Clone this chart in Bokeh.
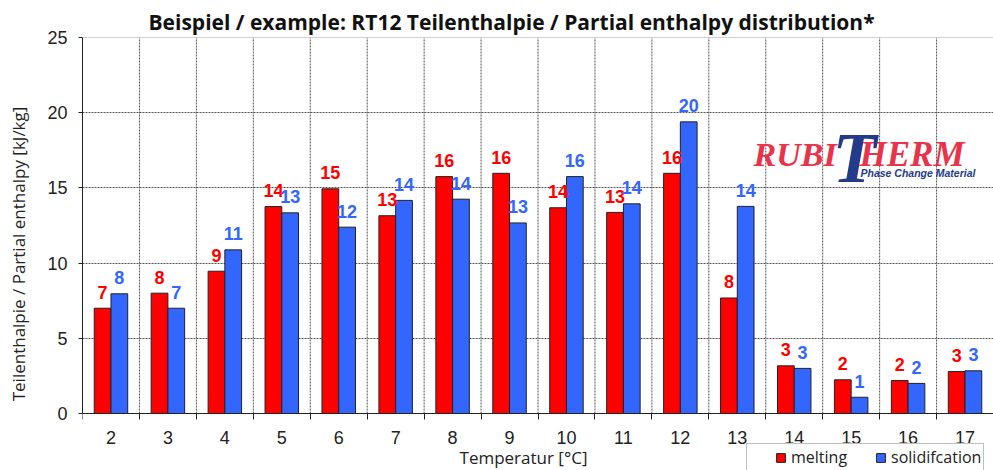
from bokeh.plotting import figure
from bokeh.models import (ColumnDataSource, FixedTicker, Range1d, Label, Legend,
                          LegendItem, Span)
from bokeh.transform import dodge
from bokeh.core.properties import value
from bokeh.embed import file_html
from bokeh.resources import INLINE

# ---------------- data ----------------
temperatures = [2, 3, 4, 5, 6, 7, 8, 9, 10, 11, 12, 13, 14, 15, 16, 17]
melting = [7.0, 8.0, 9.46, 13.76, 14.94, 13.15, 15.75, 15.97, 13.68, 13.37,
           15.97, 7.68, 3.17, 2.24, 2.19, 2.79]
solidification = [7.96, 7.0, 10.88, 13.34, 12.39, 14.17, 14.25, 12.67, 15.75,
                  13.94, 19.39, 13.77, 3.0, 1.08, 2.0, 2.84]
melting_labels = ["7", "8", "9", "14", "15", "13", "16", "16", "14", "13",
                  "16", "8", "3", "2", "2", "3"]
solidification_labels = ["8", "7", "11", "13", "12", "14", "14", "13", "16",
                         "14", "20", "14", "3", "1", "2", "3"]
y_ticks = [0, 5, 10, 15, 20, 25]

title_text = "Beispiel / example: RT12 Teilenthalpie / Partial enthalpy distribution*"
y_label = "Teilenthalpie / Partial enthalpy [kJ/kg]"
x_label = "Temperatur [°C]"
series_names = ["melting", "solidifcation"]

RED = "#ff0000"
BLUE = "#3366ff"
OFFSET = 0.147
BAR_W = 0.294

W, H = 993, 470
LEFT, TOP = 82, 37
AXIS_PX = 376            # pixel height of the 0..25 value span
BOTTOM_PX = H - TOP - AXIS_PX   # room below the x axis (tick labels, legend)
y_min = -BOTTOM_PX / AXIS_PX * (y_ticks[-1] - y_ticks[0])

boundaries = [t - 0.5 for t in temperatures] + [temperatures[-1] + 0.5]

src = ColumnDataSource(dict(t=temperatures, m=melting, s=solidification,
                            ml=melting_labels, sl=solidification_labels))

p = figure(width=W, height=H, output_backend="svg", toolbar_location=None,
           x_range=Range1d(temperatures[0] - 0.5, temperatures[-1] + 0.5),
           y_range=Range1d(y_min, y_ticks[-1]),
           min_border_left=LEFT, min_border_right=0, min_border_top=TOP,
           min_border_bottom=0)
p.outline_line_color = None
p.background_fill_color = "white"
p.border_fill_color = "white"

# title
p.title.text = title_text
p.title.text_font = "Open Sans"
p.title.text_font_style = "bold"
p.title.text_font_size = "21px"
p.title.text_color = "#111111"
p.title.align = "left"
p.title.offset = 66
p.title.standoff = 4

# vertical grid lines between the temperature groups (stop at the x axis)
p.segment(x0=boundaries[1:-1], y0=y_ticks[0], x1=boundaries[1:-1], y1=y_ticks[-1],
          line_color="#555555", line_dash="2 1", line_width=1)

# bars
r_m = p.vbar(x=dodge("t", -OFFSET, range=p.x_range), top="m", width=BAR_W,
             source=src, fill_color=RED, line_color="#222222", line_width=1)
r_s = p.vbar(x=dodge("t", OFFSET, range=p.x_range), top="s", width=BAR_W,
             source=src, fill_color=BLUE, line_color="#222222", line_width=1)

for col, lab, color, off in (("m", "ml", RED, -OFFSET), ("s", "sl", BLUE, OFFSET)):
    p.text(x=dodge("t", off, range=p.x_range), y=col, text=lab, source=src,
           text_align="center", text_baseline="alphabetic", y_offset=-16,
           text_font=value("Liberation Sans"), text_font_style="bold",
           text_font_size="18px", text_color=color)

# axes
p.xaxis.fixed_location = 0
p.xaxis.ticker = FixedTicker(ticks=temperatures, minor_ticks=boundaries)
p.xaxis.major_tick_out = 0
p.xaxis.major_tick_in = 0
p.xaxis.minor_tick_out = 6
p.xaxis.minor_tick_in = 0
p.xaxis.minor_tick_line_color = "#222222"
p.xaxis.major_label_standoff = 11

p.yaxis.ticker = y_ticks
p.yaxis.bounds = (y_ticks[0], y_ticks[-1])
p.yaxis.major_tick_out = 4
p.yaxis.major_tick_in = 0
p.yaxis.minor_tick_line_color = None
p.yaxis.major_label_standoff = 11
p.yaxis.axis_label = y_label
p.yaxis.axis_label_standoff = 14

for ax in (p.xaxis, p.yaxis):
    ax.axis_line_color = "#222222"
    ax.major_tick_line_color = "#222222"
    ax.major_label_text_font = "Liberation Sans"
    ax.major_label_text_font_size = "18px"
    ax.major_label_text_color = "#222222"
    ax.axis_label_text_font = "Open Sans"
    ax.axis_label_text_font_style = "normal"
    ax.axis_label_text_font_size = "17px"
    ax.axis_label_text_color = "#222222"

# x axis title, placed under the tick labels (slightly left of centre as in the original)
p.add_layout(Label(x=441, y=13, x_units="screen", y_units="screen", text=x_label,
                   text_align="center", text_baseline="middle",
                   text_font="Open Sans", text_font_size="17px",
                   text_color="#222222"))

# horizontal grid
p.xgrid.visible = False
p.ygrid.ticker = FixedTicker(ticks=y_ticks[1:-1])
p.ygrid.grid_line_color = "#555555"
p.ygrid.grid_line_dash = "2 1"
p.ygrid.grid_line_width = 1
p.add_layout(Span(location=y_ticks[-1], dimension="width",
                  line_color="#a6a6a6", line_width=1))

# legend (bottom right, partly cut by the picture edge as in the original)
legend = Legend(items=[LegendItem(label=series_names[0], renderers=[r_m]),
                       LegendItem(label=series_names[1], renderers=[r_s])],
                orientation="horizontal", location=(664, -1),
                title=" ", title_location="left", title_standoff=4,
                title_text_font="Open Sans", title_text_font_size="16px",
                glyph_width=11, glyph_height=11, label_standoff=5, spacing=28,
                padding=2, margin=0, label_text_font="Open Sans",
                label_text_font_size="16px", label_text_color="#222222",
                border_line_color="#7f7f7f", border_line_width=1,
                background_fill_color="white", background_fill_alpha=1)
p.add_layout(legend)

# logo (screen offsets from the plot frame's bottom-left corner)
LOGO_RED = "#e8334a"
LOGO_BLUE = "#243b8c"
p.add_layout(Label(x=671, y=316, x_units="screen", y_units="screen", text="RUBI",
                   text_font="Liberation Serif", text_font_style="bold italic",
                   text_font_size="34px", text_color=LOGO_RED,
                   text_baseline="alphabetic"))
p.add_layout(Label(x=777, y=316, x_units="screen", y_units="screen", text="HERM",
                   text_font="Liberation Serif", text_font_style="bold italic",
                   text_font_size="35px", text_color=LOGO_RED,
                   text_baseline="alphabetic"))
p.add_layout(Label(x=750, y=313, x_units="screen", y_units="screen", text="T",
                   text_font="Liberation Serif", text_font_style="bold italic",
                   text_font_size="72px", text_color=LOGO_BLUE,
                   text_baseline="alphabetic"))
p.add_layout(Label(x=778, y=298, x_units="screen", y_units="screen",
                   text="Phase Change Material",
                   text_font="Liberation Sans", text_font_style="bold italic",
                   text_font_size="10.5px", text_color=LOGO_BLUE,
                   text_baseline="alphabetic"))

open("out.html", "w").write(file_html(p, INLINE))
